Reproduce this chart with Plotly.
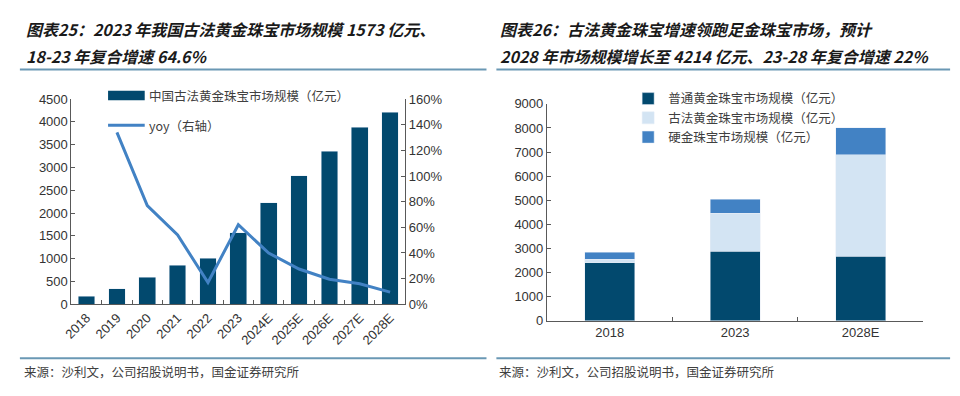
import plotly.graph_objects as go

# ---------------- data ----------------
years_left = ["2018", "2019", "2020", "2021", "2022", "2023",
              "2024E", "2025E", "2026E", "2027E", "2028E"]
antique_size = [180, 340, 590, 860, 1010, 1573, 2225, 2815, 3355, 3885, 4214]
yoy = [None, 1.34, 0.77, 0.54, 0.17, 0.62, 0.40, 0.275, 0.195, 0.16, 0.095]

years_right = ["2018", "2023", "2028E"]
normal_gold = [2410, 2885, 2680]
antique_gold = [140, 1573, 4214]
hard_gold = [290, 590, 1110]

name_bar = "中国古法黄金珠宝市场规模（亿元）"
name_yoy = "yoy（右轴）"
names_right = ["普通黄金珠宝市场规模（亿元）", "古法黄金珠宝市场规模（亿元）", "硬金珠宝市场规模（亿元）"]

title_left = ["图表25：2023 年我国古法黄金珠宝市场规模 1573 亿元、", "18-23 年复合增速 64.6%"]
title_right = ["图表26：古法黄金珠宝增速领跑足金珠宝市场，预计", "2028 年市场规模增长至 4214 亿元、23-28 年复合增速 22%"]
source_text = "来源：沙利文，公司招股说明书，国金证券研究所"

# ---------------- styles ----------------
NAVY = "#02496E"
MID = "#4282C4"
LIGHT = "#D3E4F3"
RULE = "#6A98B4"
AXIS = "#595959"
W, H = 960, 396
CJK = "Noto Sans CJK SC"
NUM = "Liberation Sans, Arial, sans-serif"


def px(x):
    return x / W


def py(y):
    return 1 - y / H


fig = go.Figure()

fig.add_trace(go.Bar(x=years_left, y=antique_size, name=name_bar, marker_color=NAVY,
                     width=0.55, xaxis="x", yaxis="y", showlegend=False))
fig.add_trace(go.Scatter(x=years_left, y=yoy, name=name_yoy, mode="lines",
                         line=dict(color=MID, width=3), xaxis="x", yaxis="y2",
                         showlegend=False))

for vals, nm, col in zip([normal_gold, antique_gold, hard_gold], names_right, [NAVY, LIGHT, MID]):
    fig.add_trace(go.Bar(x=years_right, y=vals, name=nm, marker_color=col, width=0.4,
                         xaxis="x3", yaxis="y3", legend="legend2", showlegend=True))

tickfont = dict(family=NUM, size=13, color="#333333")
common_axis = dict(showline=True, linecolor=AXIS, linewidth=1, ticks="inside",
                   tickcolor=AXIS, ticklen=4, showgrid=False, zeroline=False,
                   tickfont=tickfont, fixedrange=True)

fig.update_layout(
    width=W, height=H,
    margin=dict(l=0, r=0, t=0, b=0),
    paper_bgcolor="white", plot_bgcolor="white",
    barmode="stack",
    xaxis=dict(domain=[px(63), px(400)], anchor="y", type="category",
               tickangle=-45, tickson="boundaries", **common_axis),
    yaxis=dict(domain=[py(309), py(95.7)], anchor="x", range=[0, 4500], dtick=500,
               **common_axis),
    yaxis2=dict(overlaying="y", side="right", anchor="x", range=[0, 1.6], dtick=0.2,
                tickformat=".0%", **common_axis),
    xaxis3=dict(domain=[px(543), px(923)], anchor="y3", type="category",
                tickson="boundaries", **common_axis),
    yaxis3=dict(domain=[py(326), py(100.7)], anchor="x3", range=[0, 9000], dtick=1000,
                **common_axis),
    legend2=dict(x=px(625), y=py(80), xanchor="left", yanchor="top",
                 orientation="v", traceorder="normal",
                 font=dict(family=CJK, size=12.5, color="#404040"),
                 bgcolor="rgba(0,0,0,0)", itemwidth=30, tracegroupgap=0),
    showlegend=True,
)

shapes = []
annotations = []

# left custom legend
shapes.append(dict(type="rect", xref="paper", yref="paper",
                   x0=px(100), x1=px(137), y0=py(97), y1=py(87),
                   fillcolor=NAVY, line=dict(width=0)))
shapes.append(dict(type="line", xref="paper", yref="paper",
                   x0=px(100), x1=px(137), y0=py(123), y1=py(123),
                   line=dict(color=MID, width=3)))
annotations.append(dict(text=name_bar, x=px(139), y=py(92), xref="paper", yref="paper",
                        xanchor="left", yanchor="middle", showarrow=False,
                        font=dict(family=CJK, size=12.5, color="#404040")))
annotations.append(dict(text=name_yoy, x=px(139), y=py(123), xref="paper", yref="paper",
                        xanchor="left", yanchor="middle", showarrow=False,
                        font=dict(family=CJK, size=12.5, color="#404040")))

# titles
for x0, lines in [(15, title_left), (494, title_right)]:
    for i, t in enumerate(lines):
        annotations.append(dict(text="<i><b>" + t + "</b></i>", x=px(x0), y=py(23 + 28 * i),
                                xref="paper", yref="paper", xanchor="left", yanchor="middle",
                                showarrow=False,
                                font=dict(family=CJK, size=16, color="#1a1a1a")))

# rules
for xa, xb in [(11, 482), (492, 950)]:
    for yy in (65, 365):
        shapes.append(dict(type="line", xref="paper", yref="paper",
                           x0=px(xa), x1=px(xb), y0=py(yy), y1=py(yy),
                           line=dict(color=RULE, width=2)))

# sources
for x0 in (13, 493):
    annotations.append(dict(text=source_text, x=px(x0), y=py(379), xref="paper", yref="paper",
                            xanchor="left", yanchor="middle", showarrow=False,
                            font=dict(family=CJK, size=12.5, color="#404040")))

fig.update_layout(shapes=shapes, annotations=annotations)

fig.write_html("out.html", config={"displayModeBar": False},
               post_script="document.body.style.margin='0';document.body.style.overflow='hidden';")
